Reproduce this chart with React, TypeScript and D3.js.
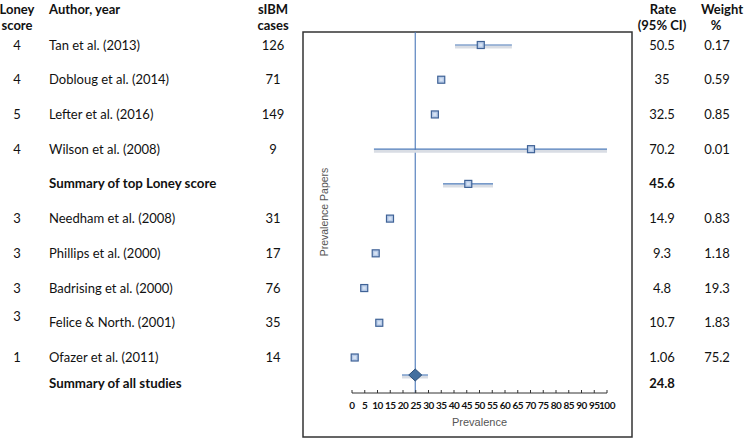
import React from "react";
import * as d3 from "d3";

const scores = ["4", "4", "5", "4", "", "3", "3", "3", "3", "1"];
const authors = [
  "Tan et al. (2013)",
  "Dobloug et al. (2014)",
  "Lefter et al. (2016)",
  "Wilson et al. (2008)",
  "Summary of top Loney score",
  "Needham et al. (2008)",
  "Phillips et al. (2000)",
  "Badrising et al. (2000)",
  "Felice & North. (2001)",
  "Ofazer et al. (2011)",
];
const cases = ["126", "71", "149", "9", "", "31", "17", "76", "35", "14"];
const rates = [50.5, 35, 32.5, 70.2, 45.6, 14.9, 9.3, 4.8, 10.7, 1.06];
const rateLabels = ["50.5", "35", "32.5", "70.2", "45.6", "14.9", "9.3", "4.8", "10.7", "1.06"];
const weights = ["0.17", "0.59", "0.85", "0.01", "", "0.83", "1.18", "19.3", "1.83", "75.2"];
const isSummary = [false, false, false, false, true, false, false, false, false, false];
// CI bounds (null = hidden within marker)
const ciLow: (number | null)[] = [40.4, null, null, 8.6, 35.7, null, null, null, null, null];
const ciHigh: (number | null)[] = [62.7, null, null, 100, 55.3, null, null, null, null, null];

const overallLabel = "Summary of all studies";
const overallRate = 24.8;
const overallRateLabel = "24.8";
const overallLow = 19.6;
const overallHigh = 29.8;

const xTicks = d3.range(0, 101, 5);

const FONT = "Lato, 'Open Sans', sans-serif";
const AXFONT = "'Liberation Sans', Arial, sans-serif";

export default function App() {
  const x = d3.scaleLinear().domain([0, 100]).range([352, 607]);
  const y = d3
    .scalePoint<number>()
    .domain(d3.range(10))
    .range([45, 357.5]);
  const yOverallMark = 375;
  const yOverallText = 383;
  const axisY = 393;
  const blue = "#4a78b8";
  const textColor = "#111";

  const square = (cx: number, cy: number, key: string, s = 7) => (
    <g key={key}>
      <rect x={cx - s / 2} y={cy - s / 2} width={s} height={s} fill="#b7cbe8" stroke="#3f6296" strokeWidth={1.2} />
      <rect x={cx - s / 2 + 2} y={cy - s / 2 + 2} width={s - 4} height={s - 4} fill="#d6e2f3" />
    </g>
  );

  const ciLine = (lo: number, hi: number, cy: number, key: string) => (
    <g key={key}>
      <line x1={x(lo)} x2={x(hi)} y1={cy + 2} y2={cy + 2} stroke="#d9dde4" strokeWidth={3} />
      <line x1={x(lo)} x2={x(hi)} y1={cy} y2={cy} stroke={blue} strokeWidth={1.1} />
    </g>
  );

  const dx = 6.5;
  const dy = 6;

  return (
    <svg width={755} height={439} style={{ position: "absolute", left: 0, top: 0, background: "#fff" }}>
      <rect width={755} height={439} fill="#fff" />
      {/* headers */}
      <g fontFamily={FONT} fontSize={13} fontWeight={700} fill={textColor} textAnchor="middle">
        <text x={17} y={14}>Loney</text>
        <text x={17} y={30}>score</text>
        <text x={49} y={14} textAnchor="start">Author, year</text>
        <text x={273} y={14}>sIBM</text>
        <text x={273} y={30}>cases</text>
        <text x={663} y={14}>Rate</text>
        <text x={662} y={30}>(95% CI)</text>
        <text x={722} y={14}>Weight</text>
        <text x={716} y={30}>%</text>
      </g>

      {/* rows */}
      <g fontFamily={FONT} fontSize={13} fill={textColor}>
        {authors.map((a, i) => {
          const cy = y(i)! + 4.5;
          const sy = i === 8 ? cy - 6 : cy;
          return (
            <g key={a}>
              <text x={17} y={sy} textAnchor="middle">{scores[i]}</text>
              <text x={49} y={cy} fontWeight={isSummary[i] ? 700 : 400} fontSize={isSummary[i] ? 13.3 : 13}>{a}</text>
              <text x={273} y={cy} textAnchor="middle">{cases[i]}</text>
              <text x={662} y={cy} textAnchor="middle" fontWeight={isSummary[i] ? 700 : 400}>{rateLabels[i]}</text>
              <text x={717} y={cy} textAnchor="middle">{weights[i]}</text>
            </g>
          );
        })}
        <text x={49} y={yOverallText + 4.5} fontWeight={700} fontSize={13.3}>{overallLabel}</text>
        <text x={662} y={yOverallText + 4.5} textAnchor="middle" fontWeight={700}>{overallRateLabel}</text>
      </g>

      {/* plot frame */}
      <rect x={303} y={32} width={329} height={405} fill="none" stroke="#333" strokeWidth={1.5} />

      {/* reference line */}
      <line x1={x(overallRate)} x2={x(overallRate)} y1={32} y2={axisY} stroke={blue} strokeWidth={1.1} />

      {/* CIs */}
      {rates.map((r, i) =>
        ciLow[i] != null && ciHigh[i] != null ? ciLine(ciLow[i] as number, ciHigh[i] as number, y(i)!, "ci" + i) : null
      )}
      {ciLine(overallLow, overallHigh, yOverallMark, "ciov")}

      {/* markers */}
      {rates.map((r, i) => square(x(r), y(i)!, "m" + i))}
      <path
        d={`M${x(overallRate) - dx},${yOverallMark} L${x(overallRate)},${yOverallMark - dy} L${x(overallRate) + dx},${yOverallMark} L${x(overallRate)},${yOverallMark + dy} Z`}
        fill="#44709f"
        stroke="#2c4f78"
        strokeWidth={1}
      />

      {/* axis */}
      <line x1={x(0)} x2={x(100)} y1={axisY} y2={axisY} stroke="#333" strokeWidth={1} />
      {xTicks.map((t) => (
        <line key={"t" + t} x1={x(t)} x2={x(t)} y1={axisY} y2={axisY - 3} stroke="#333" strokeWidth={1} />
      ))}
      <g fontFamily={FONT} fontSize={10} fontWeight={700} fill={textColor} textAnchor="middle" letterSpacing={-0.5}>
        {xTicks.map((t) => (
          <text key={"l" + t} x={x(t)} y={axisY + 16}>{t}</text>
        ))}
      </g>
      <text x={(x(0) + x(100)) / 2} y={426} fontFamily={AXFONT} fontSize={11} fill="#555" textAnchor="middle">
        Prevalence
      </text>
      <text
        transform={`translate(328,212) rotate(-90)`}
        fontFamily={AXFONT}
        fontSize={10.5}
        fill="#555"
        textAnchor="middle"
      >
        Prevalence Papers
      </text>
    </svg>
  );
}
